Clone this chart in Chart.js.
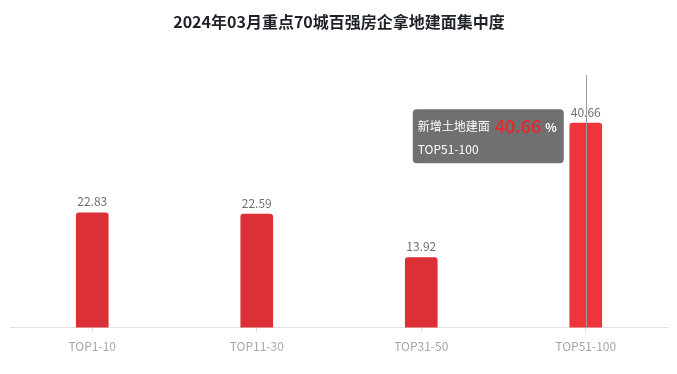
<!DOCTYPE html>
<html>
<head>
<meta charset="utf-8">
<script src="https://cdn.jsdelivr.net/npm/chart.js@4.4.1/dist/chart.umd.min.js"></script>
<style>
  html, body { margin: 0; padding: 0; background: #fff; }
  #wrap { width: 677px; height: 374px; }
</style>
</head>
<body>
<div id="wrap"><canvas id="myChart" width="677" height="374"></canvas></div>
<script>
// chart data
const titleText = '2024年03月重点70城百强房企拿地建面集中度';
const categories = ['TOP1-10', 'TOP11-30', 'TOP31-50', 'TOP51-100'];
const shareValues = [22.83, 22.59, 13.92, 40.66];
const seriesName = '新增土地建面';
const valueUnit = '%';
const hoverIndex = 3; // the bar with the tooltip shown

const FONT = '"Microsoft YaHei", "Noto Sans CJK SC", sans-serif';

// labels above each bar
const barLabels = {
  id: 'barLabels',
  afterDatasetsDraw(chart) {
    const { ctx } = chart;
    const meta = chart.getDatasetMeta(0);
    ctx.save();
    ctx.font = '12px ' + FONT;
    ctx.fillStyle = '#6e7079';
    ctx.textAlign = 'center';
    ctx.textBaseline = 'bottom';
    meta.data.forEach((bar, i) => {
      ctx.fillText(shareValues[i].toFixed(2), bar.x, bar.y - 5);
    });
    ctx.restore();
  },
};

// axis pointer line + tooltip box like the original
const hoverTip = {
  id: 'hoverTip',
  afterDraw(chart) {
    const { ctx, chartArea } = chart;
    const bar = chart.getDatasetMeta(0).data[hoverIndex];
    ctx.save();
    // vertical pointer
    ctx.strokeStyle = '#9a9a9a';
    ctx.lineWidth = 1;
    ctx.beginPath();
    ctx.moveTo(Math.round(bar.x) + 0.5, chartArea.top - 1);
    ctx.lineTo(Math.round(bar.x) + 0.5, chartArea.bottom);
    ctx.stroke();

    // tooltip box
    const w = 151, h = 54;
    const right = bar.x - 22;
    const left = right - w;
    const top = bar.y - 14;
    ctx.fillStyle = 'rgba(100,100,100,0.92)';
    ctx.beginPath();
    ctx.roundRect(left, top, w, h, 4);
    ctx.fill();

    ctx.textBaseline = 'middle';
    ctx.textAlign = 'left';
    let x = left + 5;
    const y1 = top + 17;
    ctx.fillStyle = '#fff';
    ctx.font = '12px ' + FONT;
    ctx.fillText(seriesName, x, y1);
    x += ctx.measureText(seriesName).width + 5;
    ctx.fillStyle = '#e8262c';
    ctx.font = '500 18px ' + FONT;
    const v = shareValues[hoverIndex].toFixed(2);
    ctx.fillText(v, x, y1);
    x += ctx.measureText(v).width + 4;
    ctx.fillStyle = '#fff';
    ctx.font = 'bold 12px ' + FONT;
    ctx.fillText(valueUnit, x, y1 + 1);
    ctx.font = '12px ' + FONT;
    ctx.fillText(categories[hoverIndex], left + 5, top + 40);
    ctx.restore();
  },
};

new Chart(document.getElementById('myChart'), {
  type: 'bar',
  data: {
    labels: categories,
    datasets: [
      {
        label: seriesName,
        data: shareValues,
        backgroundColor: shareValues.map((v, i) => (i === hoverIndex ? '#ef343c' : '#da3036')),
        barThickness: 32,
        borderRadius: { topLeft: 3, topRight: 3 },
        borderSkipped: 'bottom',
      },
    ],
  },
  options: {
    responsive: false,
    animation: false,
    events: [],
    layout: { padding: { left: 10, right: 9, top: 0, bottom: 13 } },
    plugins: {
      legend: { display: false },
      tooltip: { enabled: false },
      title: {
        display: true,
        text: titleText,
        color: '#1f2329',
        font: { family: FONT, size: 16, weight: 'bold' },
        padding: { top: 12, bottom: 45 },
      },
    },
    scales: {
      x: {
        grid: {
          offset: false,
          drawOnChartArea: false,
          drawTicks: true,
          tickLength: 5,
          color: '#e0e0e0',
        },
        border: { color: '#e0e0e0' },
        ticks: {
          color: '#a6a6a6',
          padding: 7,
          font: { family: FONT, size: 12 },
        },
      },
      y: {
        display: false,
        min: 0,
        max: 50,
      },
    },
  },
  plugins: [barLabels, hoverTip],
});
</script>
</body>
</html>
